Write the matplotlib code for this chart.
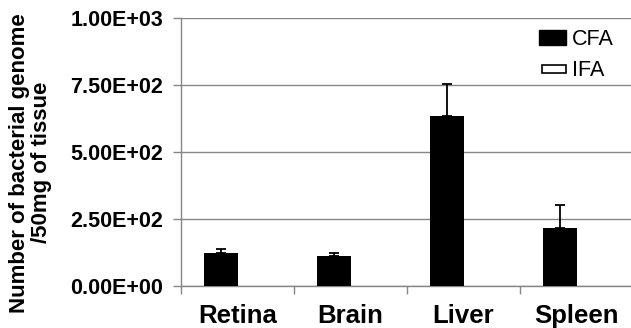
import matplotlib.pyplot as plt
import matplotlib.patches as mpatches
from matplotlib.legend_handler import HandlerPatch
import numpy as np

plt.rcParams['font.family'] = ['Liberation Sans', 'DejaVu Sans']

tissues = ["Retina", "Brain", "Liver", "Spleen"]
cfa = [122, 111, 633, 218]
cfa_err = [15, 11, 121, 84]
ifa = [0, 0, 0, 0]
yticks = [0, 250, 500, 750, 1000]
ytick_labels = ["0.00E+00", "2.50E+02", "5.00E+02", "7.50E+02", "1.00E+03"]

GRAY = "#868686"


class FlatBox(HandlerPatch):
    # the empty IFA series gets a thin outlined box, like in the original
    def create_artists(self, legend, orig_handle, xdescent, ydescent, width, height, fontsize, trans):
        p = mpatches.Rectangle((-xdescent + 0.1 * width, -ydescent + 0.22 * height),
                               0.88 * width, 0.5 * height,
                               facecolor="white", edgecolor="black", lw=1.2, transform=trans)
        return [p]


fig = plt.figure(figsize=(6.31, 3.28), dpi=100)
ax = fig.add_axes([181/631, 1-286/328, 452/631, 268/328])

x = np.arange(len(tissues))
w = 0.3
ax.bar(x - 0.15, cfa, w, color="black", zorder=3,
       yerr=[np.zeros(len(cfa)), cfa_err], error_kw=dict(ecolor="black", elinewidth=1.3, capsize=3.8, capthick=1.3))
ax.bar(x + 0.15, ifa, w, color="white", linewidth=0, zorder=3)

ax.set_xlim(-0.5, 3.5)
ax.set_ylim(0, 1000)
ax.set_yticks(yticks)
ax.set_yticklabels(ytick_labels, fontsize=15.5, fontweight="bold")
ax.set_xticks(x)
ax.set_xticklabels(tissues, fontsize=18.5, fontweight="bold")
ax.tick_params(axis="x", length=0, pad=13)
ax.set_xticks(np.arange(-0.5, 4, 1), minor=True)
ax.tick_params(axis="x", which="minor", length=6, color=GRAY, width=1)
ax.tick_params(axis="y", length=6, color=GRAY, width=1, pad=7)
ax.yaxis.grid(True, color=GRAY, linewidth=1, zorder=0)
ax.set_axisbelow(True)
for s in ["top", "right"]:
    ax.spines[s].set_visible(False)
for s in ["left", "bottom"]:
    ax.spines[s].set_color(GRAY)
    ax.spines[s].set_linewidth(1)

ax.set_ylabel("Number of bacterial genome\n/50mg of tissue", fontsize=16, fontweight="bold",
              linespacing=1.05)
ax.yaxis.set_label_coords(-0.285, 0.46)

h_cfa = mpatches.Patch(facecolor="black", edgecolor="black", label="CFA")
h_ifa = mpatches.Patch(facecolor="white", edgecolor="black", label="IFA")
ax.legend(handles=[h_cfa, h_ifa], handler_map={h_ifa: FlatBox()},
          loc="upper right", bbox_to_anchor=(1.0, 1.03), frameon=False,
          fontsize=15.5, handlelength=1.25, handleheight=0.7, handletextpad=0.25, labelspacing=0.45)

fig.savefig("out.png", dpi=100)
